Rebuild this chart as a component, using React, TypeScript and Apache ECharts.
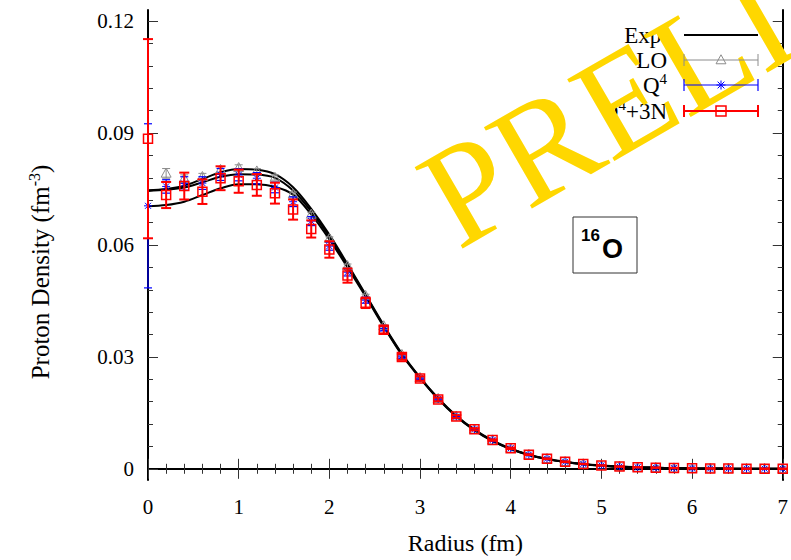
import { useEffect, useRef } from "react";
import * as echarts from "echarts";

const radius = [0, 0.2, 0.4, 0.6, 0.8, 1, 1.2, 1.4, 1.6, 1.8, 2, 2.2, 2.4, 2.6, 2.8, 3, 3.2, 3.4, 3.6, 3.8, 4, 4.2, 4.4, 4.6, 4.8, 5, 5.2, 5.4, 5.6, 5.8, 6, 6.2, 6.4, 6.6, 6.8, 7];

const expHi = [0.0747, 0.075, 0.0759, 0.0777, 0.0795, 0.0804, 0.0802, 0.079, 0.0755, 0.0697, 0.0628, 0.0549, 0.0467, 0.0385, 0.0309, 0.0245, 0.0189, 0.0142, 0.0105, 0.0076, 0.0054, 0.0038, 0.0027, 0.0019, 0.0013, 0.0009, 0.0006, 0.0004, 0.0003, 0.0002, 0.00013, 0.00009, 0.00006, 0.00004, 0.00003, 0.00002];
const expMid = [0.0745, 0.0748, 0.0754, 0.0768, 0.0783, 0.079, 0.0789, 0.078, 0.0746, 0.069, 0.0622, 0.0545, 0.0465, 0.0383, 0.0307, 0.0244, 0.0188, 0.0141, 0.0104, 0.0075, 0.0053, 0.0037, 0.0026, 0.0018, 0.0012, 0.0008, 0.0006, 0.0004, 0.0003, 0.0002, 0.00013, 0.00009, 0.00006, 0.00004, 0.00003, 0.00002];
const expLo = [0.0704, 0.0707, 0.0716, 0.0734, 0.0752, 0.0763, 0.0763, 0.0756, 0.0735, 0.0682, 0.0615, 0.054, 0.0462, 0.0381, 0.0305, 0.0243, 0.0187, 0.014, 0.0103, 0.0074, 0.0053, 0.0037, 0.0026, 0.0018, 0.0012, 0.0008, 0.0005, 0.0004, 0.0003, 0.0002, 0.00013, 0.00009, 0.00006, 0.00004, 0.00003, 0.00002];

const loVal = [null, 0.0792, 0.0778, 0.0783, 0.0802, 0.0807, 0.0798, 0.0781, 0.0736, 0.0682, 0.0617, 0.0544, 0.0464, 0.0383, 0.0306, 0.0244, 0.0188, 0.0141, 0.0106, 0.0077, 0.0055, 0.0038, 0.0027, 0.0019, 0.0013, 0.0009, 0.0006, 0.0004, 0.0003, 0.0002, 0.00013, 0.00009, 0.00006, 0.00004, 0.00003, 0.00002];
const loErr = [null, 0.0013, 0.001, 0.0009, 0.0008, 0.0008, 0.0007, 0.0007, 0.0006, 0.0006, 0.0005, 0.0005, 0.0004, 0.0003, 0.0003, 0.0002, 0.0002, 0.0002, 0.0001, 0.0001, 0.0001, 0.0001, 0.00005, 0.00005, 0.00005, 0.00005, 0.00005, 0.00005, 0.00005, 0.00005, 0.00005, 0.00005, 0.00005, 0.00005, 0.00005, 0.00005];

const q4Val = [0.0705, 0.0757, 0.0765, 0.0766, 0.0789, 0.0788, 0.0779, 0.0754, 0.0716, 0.0664, 0.0597, 0.0527, 0.0452, 0.0376, 0.0302, 0.0243, 0.0187, 0.014, 0.0106, 0.0077, 0.0055, 0.0038, 0.0027, 0.0019, 0.0013, 0.0009, 0.0006, 0.0004, 0.0003, 0.0002, 0.00013, 0.00009, 0.00006, 0.00004, 0.00003, 0.00002];
const q4Err = [0.022, 0.0018, 0.0018, 0.0017, 0.0016, 0.0016, 0.0015, 0.0014, 0.0013, 0.0012, 0.0011, 0.001, 0.0008, 0.0006, 0.0005, 0.0004, 0.0003, 0.0003, 0.0002, 0.0002, 0.0001, 0.0001, 0.0001, 0.00005, 0.00005, 0.00005, 0.00005, 0.00005, 0.00005, 0.00005, 0.00005, 0.00005, 0.00005, 0.00005, 0.00005, 0.00005];

const q43nVal = [0.0885, 0.0734, 0.0758, 0.0743, 0.0779, 0.0771, 0.0761, 0.0739, 0.0695, 0.0643, 0.0588, 0.0518, 0.0445, 0.0373, 0.03, 0.0242, 0.0186, 0.014, 0.0106, 0.0077, 0.0055, 0.0038, 0.0027, 0.0019, 0.0013, 0.0009, 0.0006, 0.0004, 0.0003, 0.0002, 0.00013, 0.00009, 0.00006, 0.00004, 0.00003, 0.00002];
const q43nErr = [0.0267, 0.0035, 0.0036, 0.0033, 0.0032, 0.0031, 0.0029, 0.0028, 0.0027, 0.0023, 0.0022, 0.0019, 0.0014, 0.001, 0.0008, 0.0006, 0.0005, 0.0004, 0.0003, 0.0002, 0.0002, 0.0001, 0.0001, 0.0001, 0.00005, 0.00005, 0.00005, 0.00005, 0.00005, 0.00005, 0.00005, 0.00005, 0.00005, 0.00005, 0.00005, 0.00005];

const xTicks = [0, 1, 2, 3, 4, 5, 6, 7];
const yMajor = [0, 0.03, 0.06, 0.09, 0.12];
const yMinor = [0.006, 0.012, 0.018, 0.024, 0.036, 0.042, 0.048, 0.054, 0.066, 0.072, 0.078, 0.084, 0.096, 0.102, 0.108, 0.114];

const legendNames = ["Exp.", "LO", "Q{sup|4}", "Q{sup|4}+3N"];

const SERIF = "'Liberation Serif', 'Times New Roman', serif";
const SANS = "'Liberation Sans', Arial, Helvetica, sans-serif";
const GRAY = "#8c8c8c";
const BLUE = "#0000ff";
const RED = "#ff0000";
const GOLD = "#ffd700";

type Kind = "tri" | "star" | "sq";

function markerShapes(kind: Kind, cx: number, cy: number, color: string, s: number, lw: number) {
  const st = { stroke: color, fill: "none", lineWidth: lw };
  if (kind === "tri") {
    return [{ type: "polygon", shape: { points: [[cx, cy - s * 0.58], [cx - s * 0.55, cy + s * 0.42], [cx + s * 0.55, cy + s * 0.42]] }, style: st }];
  }
  if (kind === "sq") {
    return [{ type: "rect", shape: { x: cx - s / 2, y: cy - s / 2, width: s, height: s }, style: st }];
  }
  const h = s / 2;
  const d = h * 0.75;
  return [
    { type: "line", shape: { x1: cx - h, y1: cy, x2: cx + h, y2: cy }, style: st },
    { type: "line", shape: { x1: cx, y1: cy - h, x2: cx, y2: cy + h }, style: st },
    { type: "line", shape: { x1: cx - d, y1: cy - d, x2: cx + d, y2: cy + d }, style: st },
    { type: "line", shape: { x1: cx - d, y1: cy + d, x2: cx + d, y2: cy - d }, style: st },
  ];
}

function barShapes(cx: number, yt: number, yb: number, cap: number, color: string, lw: number) {
  const st = { stroke: color, lineWidth: lw };
  return [
    { type: "line", shape: { x1: cx, y1: yt, x2: cx, y2: yb }, style: st },
    { type: "line", shape: { x1: cx - cap, y1: yt, x2: cx + cap, y2: yt }, style: st },
    { type: "line", shape: { x1: cx - cap, y1: yb, x2: cx + cap, y2: yb }, style: st },
  ];
}

function makeErrSeries(name: string, vals: (number | null)[], errs: (number | null)[], kind: Kind, color: string, lw: number, cap: number, size: number, mlw: number, z: number) {
  const data: number[][] = [];
  radius.forEach((r, i) => {
    const v = vals[i];
    const e = errs[i];
    if (v !== null && e !== null) data.push([r, v, e]);
  });
  return {
    type: "custom",
    name,
    z,
    clip: false,
    data,
    encode: { x: 0, y: 1 },
    renderItem: (_p: any, api: any) => {
      const x = api.value(0);
      const y = api.value(1);
      const e = api.value(2);
      const c = api.coord([x, y]);
      const t = api.coord([x, y + e]);
      const b = api.coord([x, y - e]);
      return {
        type: "group",
        children: [...barShapes(c[0], t[1], b[1], cap, color, lw), ...markerShapes(kind, c[0], c[1], color, size, mlw)],
      };
    },
  };
}

function expLine(vals: number[]) {
  return {
    type: "line",
    data: radius.map((r, i) => [r, vals[i]]),
    showSymbol: false,
    symbol: "none",
    smooth: 0.35,
    lineStyle: { color: "#000", width: 2 },
    z: 1,
  };
}

const baseX = {
  type: "value",
  min: 0,
  max: 7,
  interval: 1,
  splitLine: { show: false },
  axisLine: { show: true, lineStyle: { color: "#000", width: 2 } },
  axisTick: { show: true, inside: true, length: 10, lineStyle: { color: "#333", width: 1 } },
  minorTick: { show: true, splitNumber: 5, length: 5, lineStyle: { color: "#333", width: 1 } },
};

function yAxisDef(position: string, values: number[], len: number, showLine: boolean, labels: boolean) {
  return {
    type: "value",
    position,
    min: -0.003,
    max: 0.123,
    splitLine: { show: false },
    axisLine: { show: showLine, onZero: false, lineStyle: { color: "#000", width: 2 } },
    axisTick: { show: true, inside: true, length: len, customValues: values, lineStyle: { color: "#333", width: 1 } },
    axisLabel: labels
      ? {
          show: true,
          customValues: values,
          margin: 14,
          fontFamily: SERIF,
          fontSize: 21,
          color: "#000",
          formatter: (v: number) => (Math.abs(v) < 1e-9 ? "0" : v.toFixed(2)),
        }
      : { show: false },
  };
}

export default function App() {
  const ref = useRef<HTMLDivElement>(null);
  useEffect(() => {
    if (!ref.current) return;
    const chart = echarts.init(ref.current, null, { renderer: "svg" });

    const legendRowsY = [35, 60, 85, 111];
    const lx1 = 684;
    const lx2 = 758;
    const lcx = (lx1 + lx2) / 2;
    const supRich = (fs: number) => ({ sup: { fontSize: fs, fontFamily: SERIF, padding: [0, 0, 12, 0] } });

    const legendTexts = legendNames.map((t, i) => ({
      type: "text",
      z: 50,
      x: 667,
      y: legendRowsY[i],
      style: { text: t, fontFamily: SERIF, fontSize: 23, fill: "#000", align: "right", verticalAlign: "middle", rich: supRich(15) },
    }));

    const legendSamples: any[] = [
      { type: "line", z: 150, shape: { x1: lx1, y1: legendRowsY[0], x2: lx2, y2: legendRowsY[0] }, style: { stroke: "#000", lineWidth: 2 } },
    ];
    const legSpec: [Kind, string, number, number, number][] = [
      ["tri", GRAY, 1, 9, 1],
      ["star", BLUE, 1.2, 9, 1],
      ["sq", RED, 2, 10, 1.5],
    ];
    legSpec.forEach(([kind, color, lw, size, mlw], k) => {
      const y = legendRowsY[k + 1];
      const st = { stroke: color, lineWidth: lw };
      legendSamples.push({ type: "line", z: 150, shape: { x1: lx1, y1: y, x2: lx2, y2: y }, style: st });
      legendSamples.push({ type: "line", z: 150, shape: { x1: lx1, y1: y - 6, x2: lx1, y2: y + 6 }, style: st });
      legendSamples.push({ type: "line", z: 150, shape: { x1: lx2, y1: y - 6, x2: lx2, y2: y + 6 }, style: st });
      markerShapes(kind, lcx, y, color, size, mlw).forEach((m: any) => legendSamples.push({ ...m, z: 150 }));
    });

    const option: any = {
      animation: false,
      backgroundColor: "#fff",
      grid: { left: 148, right: 3, top: 10, bottom: 79, containLabel: false },
      xAxis: [
        {
          ...baseX,
          position: "bottom",
          axisLabel: { show: true, margin: 16, fontFamily: SERIF, fontSize: 21, color: "#000", customValues: xTicks },
          name: "Radius (fm)",
          nameLocation: "middle",
          nameGap: 51,
          nameTextStyle: { fontFamily: SERIF, fontSize: 24, color: "#000" },
        },
        { ...baseX, position: "top", axisLabel: { show: false } },
      ],
      yAxis: [
        yAxisDef("left", yMajor, 10, true, true),
        yAxisDef("left", yMinor, 5, false, false),
        yAxisDef("right", yMajor, 10, true, false),
        yAxisDef("right", yMinor, 5, false, false),
      ],
      series: [
        expLine(expHi),
        expLine(expMid),
        expLine(expLo),
        makeErrSeries("LO", loVal, loErr, "tri", GRAY, 1, 4, 9, 1, 3),
        makeErrSeries("Q4", q4Val, q4Err, "star", BLUE, 1.2, 4, 8, 1, 4),
        makeErrSeries("Q4+3N", q43nVal, q43nErr, "sq", RED, 2, 5, 9, 1.5, 5),
      ],
      graphic: [
        {
          type: "text",
          z: 50,
          x: 40,
          y: 272,
          rotation: Math.PI / 2,
          style: {
            text: "Proton Density (fm{sup|-3})",
            fontFamily: SERIF,
            fontSize: 25,
            fill: "#000",
            align: "center",
            verticalAlign: "middle",
            rich: supRich(16),
          },
        },
        {
          type: "rect",
          z: 50,
          shape: { x: 573, y: 217, width: 64, height: 56 },
          style: { fill: "#fff", stroke: "#333", lineWidth: 1 },
        },
        {
          type: "text",
          z: 51,
          x: 581,
          y: 227,
          style: { text: "16", fontFamily: SANS, fontWeight: "bold", fontSize: 17, fill: "#000", align: "left", verticalAlign: "top" },
        },
        {
          type: "text",
          z: 51,
          x: 602,
          y: 235,
          style: { text: "O", fontFamily: SANS, fontWeight: "bold", fontSize: 27, fill: "#000", align: "left", verticalAlign: "top" },
        },
        ...legendTexts,
        {
          type: "text",
          z: 100,
          x: 434,
          y: 209,
          rotation: Math.PI / 6,
          style: { text: "PRELIMINARY", fontFamily: SERIF, fontSize: 144, fill: GOLD, align: "left", verticalAlign: "middle" },
        },
        ...legendSamples,
      ],
    };
    chart.setOption(option);
    return () => chart.dispose();
  }, []);
  return <div ref={ref} style={{ position: "fixed", left: 0, top: 0, width: 791, height: 560, background: "#fff" }} />;
}
